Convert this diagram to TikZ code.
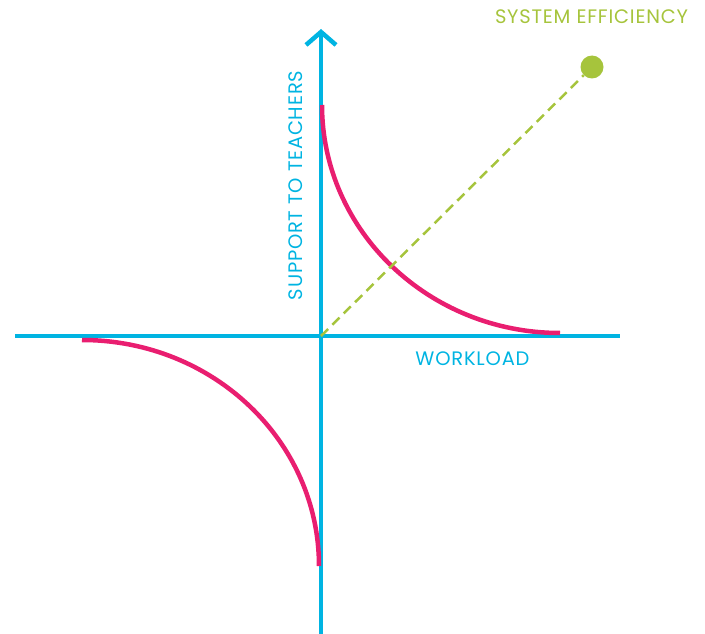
\documentclass[tikz,border=0pt]{standalone}
\usepackage{fontspec}
\setmainfont{Poppins}[LetterSpace=4]
\usetikzlibrary{positioning,arrows.meta}
\definecolor{axisblue}{RGB}{0,180,226}
\definecolor{curvepink}{RGB}{233,30,112}
\definecolor{effgreen}{RGB}{166,196,60}
\tikzset{
  axis/.style={draw=axisblue, line width=4.5pt},
  curve/.style={draw=curvepink, line width=4.5pt},
  lbl/.style={font=\fontsize{19.5}{22}\selectfont, inner sep=0pt}
}
\begin{document}
\begin{tikzpicture}[x=1pt,y=-1pt]
			\useasboundingbox (0,0) rectangle (705,634);
			% axes
			\coordinate (o) at (321,336);
			\coordinate (xl) at (15,336);
			\coordinate (xr) at (620,336);
			\coordinate (yb) at (321,634);
			\coordinate (yt) at (321,29);
			\draw[axis] (xl) -- (xr);
			\draw[axis, -{Straight Barb[length=13pt,width=30pt]}] (yb) -- (yt);
			% curves
			\draw[curve] (322,105) .. controls (322,231) and (429,333) .. (560,333);
			\draw[curve] (82,340) .. controls (213,340) and (319,441) .. (319,566);
			% efficiency
			\node[circle, fill=effgreen, minimum size=23pt, inner sep=0pt] (dot) at (592,67) {};
			\draw[effgreen, line width=2.5pt, dash pattern=on 10pt off 6pt] (o) -- (dot);
			% labels
			\node[lbl, text=axisblue, rotate=90] (ylab) at (296,185.5) {SUPPORT TO TEACHERS};
			\node[lbl, text=axisblue] (xlab) at (472.5,359) {WORKLOAD};
			\node[lbl, text=effgreen] (efflab) at (591.5,17) {SYSTEM EFFICIENCY};
\end{tikzpicture}
\end{document}
